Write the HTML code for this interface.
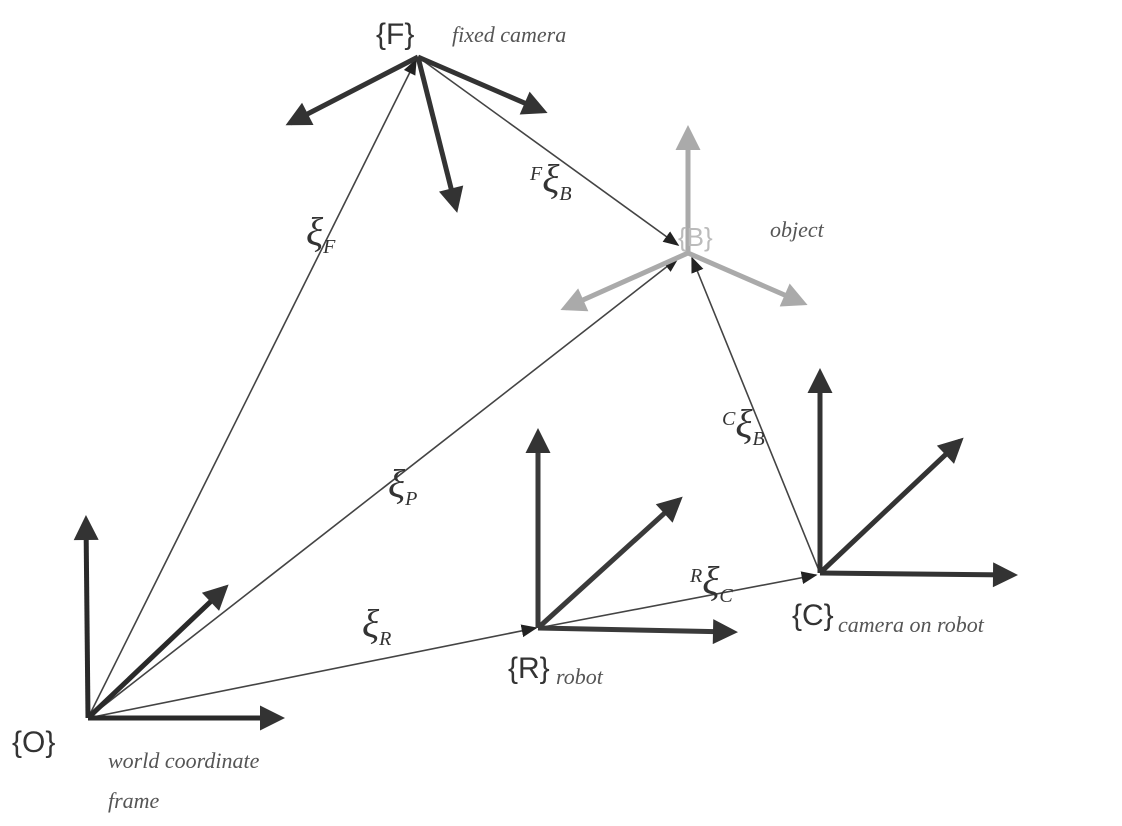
<!DOCTYPE html>
<html><head><meta charset="utf-8"><style>
html,body{margin:0;padding:0;background:#fff;}
svg{display:block}
.hand{font-family:"Liberation Serif",serif;font-style:italic;fill:#555;font-size:22px}
.fr{font-family:"Liberation Sans",sans-serif;fill:#333;font-size:30px}
.math{font-family:"Liberation Serif",serif;font-style:italic;fill:#333}
</style></head><body>
<svg width="1122" height="826" viewBox="0 0 1122 826">
<defs>
<marker id="thk" viewBox="0 0 10 10" refX="8" refY="5" markerWidth="5.5" markerHeight="5" orient="auto"><path d="M0,0 L10,5 L0,10 z" fill="#333"/></marker>
<marker id="thkg" viewBox="0 0 10 10" refX="8" refY="5" markerWidth="5.5" markerHeight="5" orient="auto"><path d="M0,0 L10,5 L0,10 z" fill="#aaa"/></marker>
<marker id="thn" viewBox="0 0 10 10" refX="9" refY="5" markerWidth="16" markerHeight="16" markerUnits="userSpaceOnUse" orient="auto"><path d="M0,1 L10,5 L0,9 z" fill="#222"/></marker>
</defs>
<g stroke="#444" stroke-width="1.6" fill="none">
<line x1="88" y1="718" x2="416" y2="60" marker-end="url(#thn)"/>
<line x1="88" y1="718" x2="678" y2="258" marker-end="url(#thn)"/>
<line x1="88" y1="718" x2="536" y2="628" marker-end="url(#thn)"/>
<line x1="538" y1="628" x2="816" y2="575" marker-end="url(#thn)"/>
<line x1="418" y1="57" x2="678" y2="245" marker-end="url(#thn)"/>
<line x1="820" y1="573" x2="692" y2="258" marker-end="url(#thn)"/>
</g>
<g stroke="#2a2a2a" stroke-width="5" fill="none">
<line x1="88" y1="718" x2="86" y2="520" marker-end="url(#thk)"/>
<line x1="88" y1="718" x2="280" y2="718" marker-end="url(#thk)"/>
<line x1="88" y1="718" x2="225" y2="588" marker-end="url(#thk)"/>
</g>
<g stroke="#333" stroke-width="5" fill="none">
<line x1="418" y1="57" x2="290" y2="123" marker-end="url(#thk)"/>
<line x1="418" y1="57" x2="543" y2="111" marker-end="url(#thk)"/>
<line x1="418" y1="57" x2="456" y2="208" marker-end="url(#thk)"/>
</g>
<g stroke="#aaa" stroke-width="5" fill="none">
<line x1="688" y1="253" x2="688" y2="130" marker-end="url(#thkg)"/>
<line x1="688" y1="253" x2="565" y2="308" marker-end="url(#thkg)"/>
<line x1="688" y1="253" x2="803" y2="303" marker-end="url(#thkg)"/>
</g>
<g stroke="#3a3a3a" stroke-width="5" fill="none">
<line x1="538" y1="628" x2="538" y2="433" marker-end="url(#thk)"/>
<line x1="538" y1="628" x2="733" y2="632" marker-end="url(#thk)"/>
<line x1="538" y1="628" x2="679" y2="500" marker-end="url(#thk)"/>
</g>
<g stroke="#333" stroke-width="5" fill="none">
<line x1="820" y1="573" x2="820" y2="373" marker-end="url(#thk)"/>
<line x1="820" y1="573" x2="1013" y2="575" marker-end="url(#thk)"/>
<line x1="820" y1="573" x2="960" y2="441" marker-end="url(#thk)"/>
</g>
<text class="fr" x="376" y="44">{F}</text>
<text class="hand" x="452" y="42">fixed camera</text>
<text class="fr" x="678" y="246" style="fill:#bbb;font-size:26px">{B}</text>
<text class="hand" x="770" y="237">object</text>
<text class="fr" x="508" y="678">{R}</text>
<text class="hand" x="556" y="684">robot</text>
<text class="fr" x="792" y="625">{C}</text>
<text class="hand" x="838" y="632">camera on robot</text>
<text class="fr" x="12" y="752">{O}</text>
<text class="hand" x="108" y="768">world coordinate</text>
<text class="hand" x="108" y="808">frame</text>
<text class="math" x="306" y="245" font-size="40">ξ<tspan font-size="20" dy="8">F</tspan></text>
<text class="math" x="530" y="180" font-size="20">F<tspan font-size="40" dy="12">ξ</tspan><tspan font-size="20" dy="8">B</tspan></text>
<text class="math" x="388" y="497" font-size="40">ξ<tspan font-size="20" dy="8">P</tspan></text>
<text class="math" x="362" y="637" font-size="40">ξ<tspan font-size="20" dy="8">R</tspan></text>
<text class="math" x="690" y="582" font-size="20">R<tspan font-size="40" dy="12">ξ</tspan><tspan font-size="20" dy="8">C</tspan></text>
<text class="math" x="722" y="425" font-size="20">C<tspan font-size="40" dy="12">ξ</tspan><tspan font-size="20" dy="8">B</tspan></text>
</svg>
</body></html>
